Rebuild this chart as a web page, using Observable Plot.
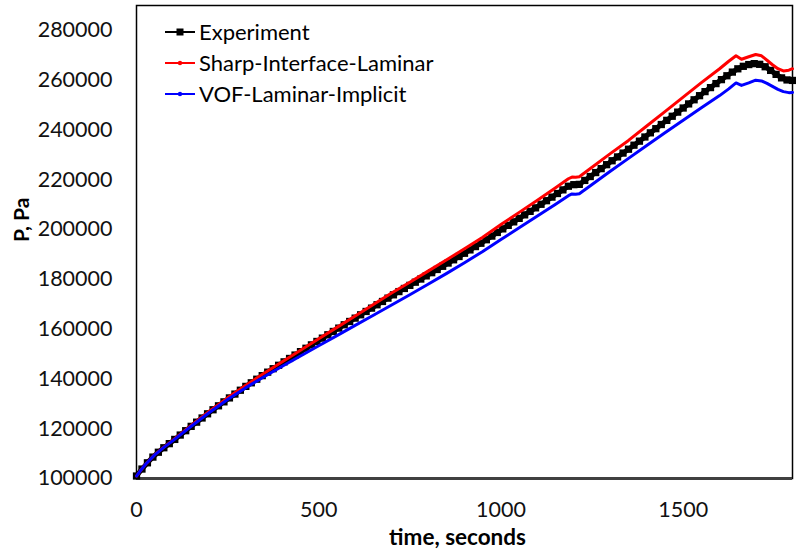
<!DOCTYPE html>
<html>
<head>
<meta charset="utf-8">
<script src="https://cdn.jsdelivr.net/npm/d3@7"></script>
<script src="https://cdn.jsdelivr.net/npm/@observablehq/plot@0.6"></script>
<style>
  body { margin: 0; background: #fff; }
  #chart { position: relative; width: 796px; height: 554px; font-family: Lato, "Open Sans", sans-serif; }
  .legend { position: absolute; left: 165px; top: 16px; }
  .legend .row { display: flex; align-items: center; height: 31px; font-size: 22px; color: #000; white-space: nowrap; }
  .legend svg { margin-right: 4px; }
</style>
</head>
<body>
<div id="chart"></div>
<script>
// Measured pressure (experiment), sampled every 15 s
const expTime = [
  0, 15, 30, 45, 60, 75, 90, 105, 120, 135, 150, 165, 180, 195, 210, 225, 240, 255, 270, 285,
  300, 315, 330, 345, 360, 375, 390, 405, 420, 435, 450, 465, 480, 495, 510, 525, 540, 555, 570, 585,
  600, 615, 630, 645, 660, 675, 690, 705, 720, 735, 750, 765, 780, 795, 810, 825, 840, 855, 870, 885,
  900, 915, 930, 945, 960, 975, 990, 1005, 1020, 1035, 1050, 1065, 1080, 1095, 1110, 1125, 1140, 1155, 1170, 1185,
  1200, 1215, 1230, 1245, 1260, 1275, 1290, 1305, 1320, 1335, 1350, 1365, 1380, 1395, 1410, 1425, 1440, 1455, 1470, 1485,
  1500, 1515, 1530, 1545, 1560, 1575, 1590, 1605, 1620, 1635, 1650, 1665, 1680, 1695, 1710, 1725, 1740, 1755, 1770, 1785,
  1800
];
const expPressure = [
  101000, 103800, 106300, 108600, 110550, 112350, 114000, 115700, 117450, 119200, 120950, 122630, 124310, 125990, 127610, 129200, 130790, 132370, 133910, 135460,
  137000, 138440, 139880, 141320, 142720, 144100, 145480, 146860, 148220, 149590, 150950, 152320, 153680, 155050, 156390, 157730, 159070, 160410, 161750, 163080,
  164420, 165760, 167100, 168440, 169780, 171110, 172450, 173780, 175080, 176340, 177580, 178850, 180120, 181390, 182670, 183960, 185240, 186540, 187850, 189170,
  190480, 191820, 193160, 194500, 195910, 197370, 198830, 200270, 201680, 203090, 204500, 205900, 207310, 208720, 210150, 211590, 213030, 214480, 215940, 217410,
  218030, 218150, 219730, 221300, 222890, 224470, 226060, 227640, 229180, 230720, 232270, 233890, 235510, 237180, 238850, 240520, 242190, 243860, 245510, 247170,
  248820, 250470, 252130, 253780, 255410, 257020, 258630, 260220, 261780, 263250, 264570, 265570, 266270, 266650, 266370, 265400, 263930, 262330, 260930, 260100,
  259900
];

// Simulation output times shared by both models
const simTime = [
  0, 10, 25, 50, 75, 100, 150, 200, 250, 300, 350, 400, 450, 500, 550, 600, 650, 700, 750, 800,
  850, 900, 950, 1000, 1050, 1100, 1150, 1185, 1195, 1205, 1215, 1250, 1300, 1350, 1400, 1450, 1500, 1550, 1600,
  1625, 1645, 1660, 1680, 1699, 1715, 1730, 1745, 1760, 1775, 1790, 1800
];
const sharpPressure = [
  101000, 103000, 105700, 109600, 112600, 115400, 121300, 127000, 132400, 137500, 142300, 146900, 151500, 156100, 160700, 165300, 169900, 174500, 178850, 183300,
  187750, 192300, 196900, 202000, 206900, 211800, 216800, 220400, 221100, 221000, 221200, 225000, 230500, 235800, 241600, 247400, 253200, 259000, 264600,
  267600, 269800, 268400, 269400, 270300, 269800, 268000, 266200, 264600, 263700, 264000, 264600
];
const vofPressure = [
  101000, 103000, 105700, 109500, 112500, 115200, 121000, 126500, 131700, 136500, 140900, 145100, 149200, 153300, 157400, 161500, 165600, 169700, 173800, 178000,
  182300, 186700, 191200, 196000, 200700, 205400, 210200, 213600, 214300, 214200, 214400, 218100, 223400, 228600, 233800, 238900, 243900, 248900, 253800,
  256500, 258900, 257900, 258900, 260000, 259700, 258700, 257500, 256300, 255400, 255000, 255100
];

const seriesNames = ["Experiment", "Sharp-Interface-Laminar", "VOF-Laminar-Implicit"];
const seriesColors = ["#000000", "#ff0000", "#0000ff"];
const xTicks = [0, 500, 1000, 1500];
const yTicks = [100000, 120000, 140000, 160000, 180000, 200000, 220000, 240000, 260000, 280000];

const expRows = expTime.map((t, i) => ({t, p: expPressure[i]}));
const sharpRows = simTime.map((t, i) => ({t, p: sharpPressure[i]}));
const vofRows = simTime.map((t, i) => ({t, p: vofPressure[i]}));

const chart = Plot.plot({
  width: 796,
  height: 554,
  marginLeft: 136,
  marginRight: 4,
  marginTop: 5,
  marginBottom: 76,
  style: {fontFamily: "Lato, 'Open Sans', sans-serif", fontSize: "21.5px", color: "#111", background: "#fff", overflow: "visible"},
  x: {domain: [0, 1800], ticks: xTicks, tickSize: 0, tickPadding: 23, tickFormat: d3.format("d"), label: null},
  y: {domain: [100000, 290000], ticks: yTicks, tickSize: 0, tickPadding: 24, tickFormat: d3.format("d"), label: null},
  marks: [
    Plot.frame({stroke: "#000", strokeWidth: 1.5}),
    Plot.ruleY([100000], {stroke: "#404040", strokeWidth: 3}),
    // experiment: thick line plus square markers gives the serrated band
    Plot.line(expRows, {x: "t", y: "p", stroke: seriesColors[0], strokeWidth: 5}),
    Plot.dot(expRows, {x: "t", y: "p", symbol: "square", r: 4.1, fill: seriesColors[0]}),
    Plot.line(sharpRows, {x: "t", y: "p", stroke: seriesColors[1], strokeWidth: 3}),
    Plot.line(vofRows, {x: "t", y: "p", stroke: seriesColors[2], strokeWidth: 3}),
    Plot.text(["time, seconds"], {frameAnchor: "bottom", dx: -7, dy: 66, fontWeight: "bold", fontSize: 22.5, fill: "#000"}),
    Plot.text(["P, Pa"], {frameAnchor: "left", dx: -114, rotate: -90, fontWeight: "bold", fontSize: 21, fill: "#000"})
  ]
});

const root = document.getElementById("chart");
root.appendChild(chart);

// Legend inside the plot area, top-left
const legend = document.createElement("div");
legend.className = "legend";
seriesNames.forEach((name, i) => {
  const row = document.createElement("div");
  row.className = "row";
  const marker = i === 0
    ? `<rect x="11.5" y="4.5" width="7" height="7" fill="#000"/>`
    : `<circle cx="15" cy="8" r="2.2" fill="${seriesColors[i]}"/>`;
  row.innerHTML = `<svg width="30" height="16"><line x1="0" x2="30" y1="8" y2="8" stroke="${seriesColors[i]}" stroke-width="2"/>${marker}</svg><span>${name}</span>`;
  legend.appendChild(row);
});
root.appendChild(legend);
</script>
</body>
</html>
